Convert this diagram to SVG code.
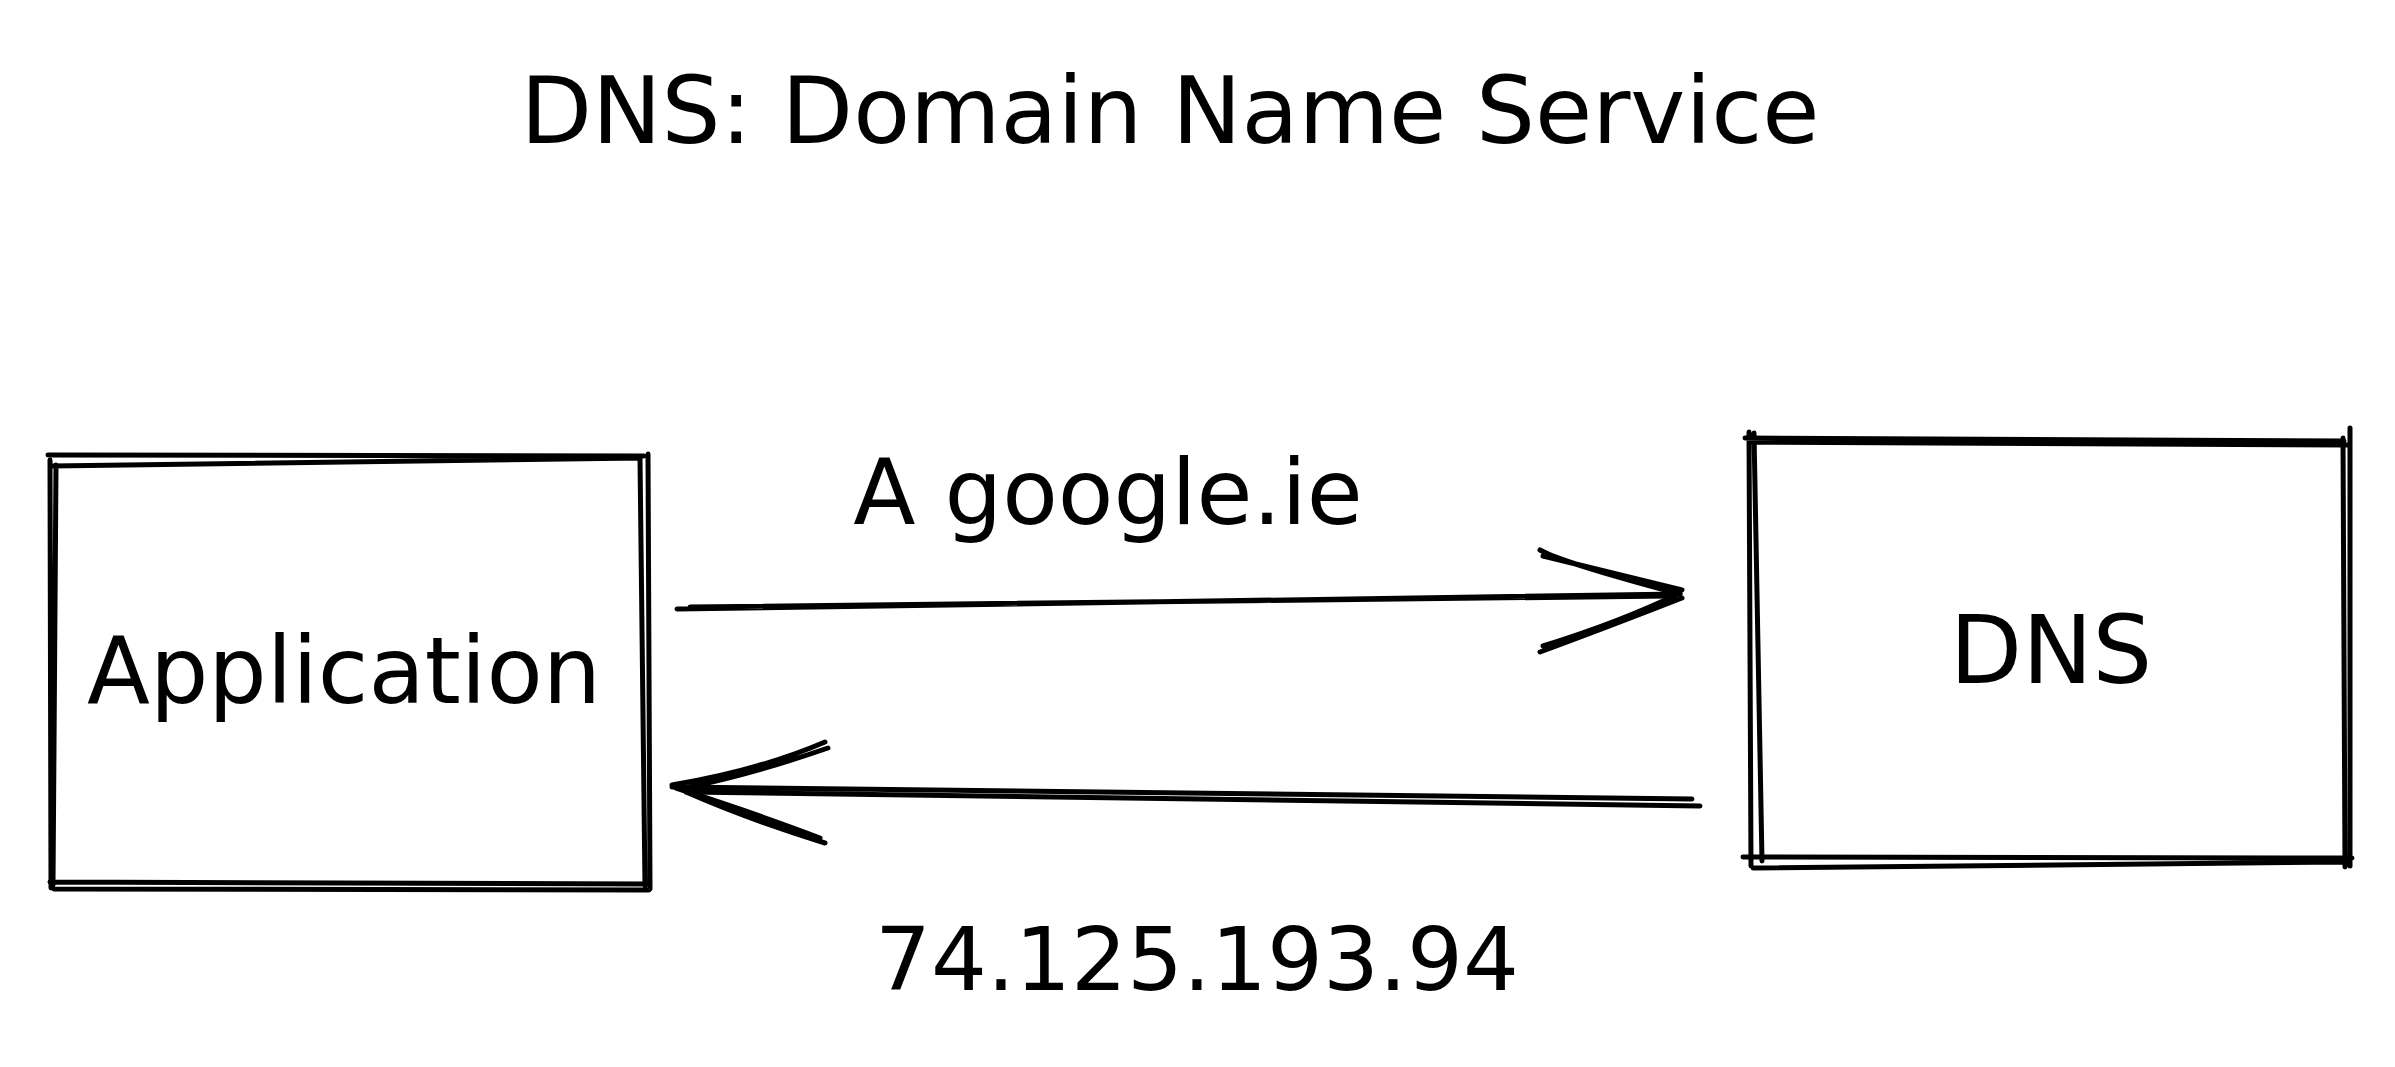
<svg xmlns="http://www.w3.org/2000/svg" width="2395" height="1067" viewBox="0 0 2395 1067">
<style>
.s{fill:none;stroke:#000;stroke-width:5;stroke-linecap:round;stroke-linejoin:round}
.txt{font-family:"DejaVu Sans","Liberation Sans",sans-serif;fill:#000;text-anchor:middle}
</style>
<rect width="2395" height="1067" fill="#fff"/>
<g id="title">
<text class="txt" x="1170" y="143" font-size="93">DNS: Domain Name Service</text>
</g>
<g id="application">
<path class="s" d="M48 455 L644 456 M52 466 L640 458 M50 460 L51 888 M56 465 L53 885 M640 458 L645 886 M648 454 L650 889 M50 882 L646 884 M54 889 L649 890"/>
<text class="txt" x="344" y="703" font-size="92">Application</text>
</g>
<g id="dns">
<path class="s" d="M1745 438 L2344 441 M1752 442 L2348 445 M1749 432 L1751 866 M1754 433 L1762 861 M2343 438 L2345 867 M2350 428 L2350 866 M1743 857 L2352 858 M1753 868 L2345 862"/>
<text class="txt" x="2051" y="683" font-size="94">DNS</text>
</g>
<g id="connectors">
<path class="s" d="M677 609 L1680 594 M690 607 L1670 596"/>
<path class="s" d="M1540 550 Q1560 562 1680 594 M1543 556 Q1600 570 1682 590 M1540 652 Q1600 630 1682 598 M1543 646 Q1620 622 1678 594"/>
<path class="s" d="M1692 799 L672 787 M1700 806 L686 792"/>
<path class="s" d="M825 742 Q760 770 672 785 M828 748 Q750 775 680 789 M825 843 Q750 820 686 792 M820 838 Q760 815 676 788"/>
<text class="txt" x="1108" y="524" font-size="91">A google.ie</text>
<text class="txt" x="1197" y="990" font-size="88">74.125.193.94</text>
</g>
</svg>
